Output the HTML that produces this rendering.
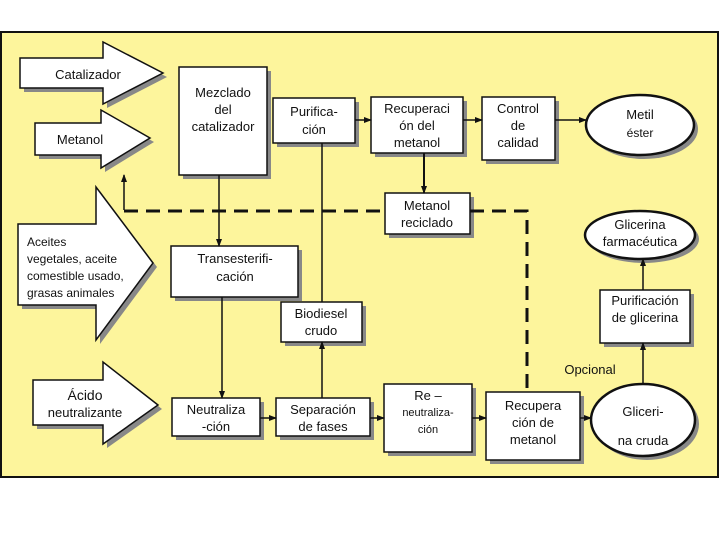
<!DOCTYPE html>
<html><head><meta charset="utf-8"><style>
html,body{margin:0;padding:0;background:#fff;}
svg{display:block;}
text{font-family:"Liberation Sans",sans-serif;font-size:13px;fill:#111;text-anchor:middle;}
text.l{text-anchor:start;font-size:12px;}
</style></head><body>
<svg width="720" height="540" viewBox="0 0 720 540">
<defs>
<marker id="a" markerWidth="8" markerHeight="8" refX="7" refY="4" orient="auto" markerUnits="userSpaceOnUse"><path d="M0,1 L8,4 L0,7 Z" fill="#111"/></marker>
</defs>
<rect x="1" y="32" width="717" height="445" fill="#fdf59c" stroke="#111" stroke-width="2"/>
<g fill="#888">
<polygon points="24,62 107,62 107,46 167,77 107,108 107,92 24,92"/>
<polygon points="39,127 105,127 105,114 154,142 105,172 105,159 39,159"/>
<polygon points="22,228 100,228 100,191 157,267 100,344 100,309 22,309"/>
<polygon points="37,384 107,384 107,366 162,409 107,448 107,429 37,429"/>
<rect x="183" y="71" width="88" height="108"/><rect x="277" y="102" width="82" height="45"/>
<rect x="375" y="101" width="92" height="56"/><rect x="486" y="101" width="73" height="63"/>
<rect x="389" y="197" width="85" height="41"/><rect x="175" y="250" width="127" height="51"/>
<rect x="285" y="306" width="81" height="40"/><rect x="176" y="402" width="88" height="38"/>
<rect x="280" y="402" width="94" height="38"/><rect x="388" y="388" width="88" height="68"/>
<rect x="490" y="396" width="94" height="68"/><rect x="604" y="294" width="90" height="53"/>
<ellipse cx="644" cy="129" rx="54" ry="30"/><ellipse cx="644" cy="239" rx="55" ry="24"/><ellipse cx="647" cy="424" rx="52" ry="36"/>
</g>
<g fill="#fff" stroke="#111" stroke-width="1.5">
<polygon points="20,58 103,58 103,42 163,73 103,104 103,88 20,88"/>
<polygon points="35,123 101,123 101,110 150,138 101,168 101,155 35,155"/>
<polygon points="18,224 96,224 96,187 153,263 96,340 96,305 18,305"/>
<polygon points="33,380 103,380 103,362 158,405 103,444 103,425 33,425"/>
<rect x="179" y="67" width="88" height="108"/><rect x="273" y="98" width="82" height="45"/>
<rect x="371" y="97" width="92" height="56"/><rect x="482" y="97" width="73" height="63"/>
<rect x="385" y="193" width="85" height="41"/><rect x="171" y="246" width="127" height="51"/>
<rect x="281" y="302" width="81" height="40"/><rect x="172" y="398" width="88" height="38"/>
<rect x="276" y="398" width="94" height="38"/><rect x="384" y="384" width="88" height="68"/>
<rect x="486" y="392" width="94" height="68"/><rect x="600" y="290" width="90" height="53"/>
<ellipse cx="640" cy="125" rx="54" ry="30" stroke-width="2.5"/><ellipse cx="640" cy="235" rx="55" ry="24" stroke-width="2.5"/><ellipse cx="643" cy="420" rx="52" ry="36" stroke-width="2.5"/>
</g>
<g stroke="#111" stroke-width="1.5" fill="none">
<line x1="219" y1="175" x2="219" y2="246" marker-end="url(#a)"/>
<line x1="222" y1="297" x2="222" y2="398" marker-end="url(#a)"/>
<line x1="322" y1="143" x2="322" y2="302"/>
<line x1="322" y1="398" x2="322" y2="342" marker-end="url(#a)"/>
<line x1="355" y1="120" x2="371" y2="120" marker-end="url(#a)"/>
<line x1="463" y1="120" x2="482" y2="120" marker-end="url(#a)"/>
<line x1="555" y1="120" x2="586" y2="120" marker-end="url(#a)"/>
<line x1="424" y1="153" x2="424" y2="193" marker-end="url(#a)" stroke-width="2"/>
<line x1="260" y1="418" x2="276" y2="418" marker-end="url(#a)"/>
<line x1="370" y1="418" x2="384" y2="418" marker-end="url(#a)"/>
<line x1="472" y1="418" x2="486" y2="418" marker-end="url(#a)"/>
<line x1="580" y1="418" x2="591" y2="418" marker-end="url(#a)"/>
<line x1="643" y1="384" x2="643" y2="343" marker-end="url(#a)"/>
<line x1="643" y1="290" x2="643" y2="259" marker-end="url(#a)"/>
<line x1="124" y1="210" x2="124" y2="175" marker-end="url(#a)"/>
<g stroke-width="3" stroke-dasharray="14,8">
<line x1="124" y1="211" x2="385" y2="211"/>
<polyline points="470,211 527,211 527,392"/>
</g>
</g>
<text x="88" y="79">Catalizador</text>
<text x="80" y="144">Metanol</text>
<text class="l" x="27" y="246">Aceites</text><text class="l" x="27" y="263">vegetales, aceite</text><text class="l" x="27" y="280">comestible usado,</text><text class="l" x="27" y="297">grasas animales</text>
<text x="85" y="400" style="font-size:14px">Ácido</text><text x="85" y="417">neutralizante</text>
<text x="223" y="97">Mezclado</text><text x="223" y="114">del</text><text x="223" y="131">catalizador</text>
<text x="314" y="116">Purifica-</text><text x="314" y="134">ción</text>
<text x="417" y="113">Recuperaci</text><text x="417" y="130">ón del</text><text x="417" y="147">metanol</text>
<text x="518" y="113">Control</text><text x="518" y="130">de</text><text x="518" y="147">calidad</text>
<text x="640" y="119">Metil</text><text x="640" y="137" style="font-size:12px">éster</text>
<text x="427" y="210">Metanol</text><text x="427" y="227">reciclado</text>
<text x="640" y="229">Glicerina</text><text x="640" y="246">farmacéutica</text>
<text x="235" y="263">Transesterifi-</text><text x="235" y="281">cación</text>
<text x="321" y="318">Biodiesel</text><text x="321" y="335">crudo</text>
<text x="216" y="414">Neutraliza</text><text x="216" y="431">-ción</text>
<text x="323" y="414">Separación</text><text x="323" y="431">de fases</text>
<text x="428" y="400">Re –</text><text x="428" y="416" style="font-size:11px">neutraliza-</text><text x="428" y="433" style="font-size:11px">ción</text>
<text x="533" y="410">Recupera</text><text x="533" y="427">ción de</text><text x="533" y="444">metanol</text>
<text x="590" y="374">Opcional</text>
<text x="643" y="416">Gliceri-</text><text x="643" y="445">na cruda</text>
<text x="645" y="305">Purificación</text><text x="645" y="322">de glicerina</text>
</svg>
</body></html>
